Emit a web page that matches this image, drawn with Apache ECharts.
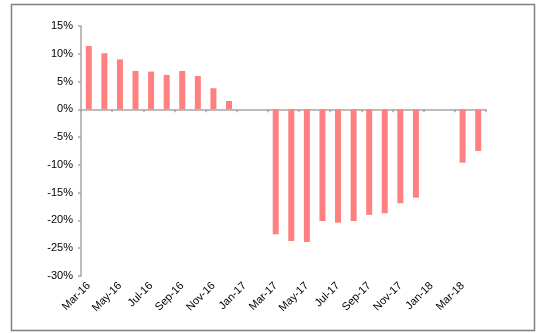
<!DOCTYPE html>
<html>
<head>
<meta charset="utf-8">
<script src="https://cdn.jsdelivr.net/npm/echarts@6/dist/echarts.min.js"></script>
<style>html,body{margin:0;padding:0;background:#fff;}#c{width:543px;height:333px;}</style>
</head>
<body>
<div id="c"></div>
<script>
var categories = ['Mar-16','Apr-16','May-16','Jun-16','Jul-16','Aug-16','Sep-16','Oct-16','Nov-16','Dec-16',
  'Jan-17','Feb-17','Mar-17','Apr-17','May-17','Jun-17','Jul-17','Aug-17','Sep-17','Oct-17','Nov-17','Dec-17',
  'Jan-18','Feb-18','Mar-18','Apr-18'];
var values = [11.4, 10.1, 9.0, 6.9, 6.8, 6.2, 6.9, 6.0, 3.8, 1.5,
  null, null, -22.5, -23.7, -23.9, -20.1, -20.4, -20.1, -19.0, -18.7, -16.9, -15.9,
  null, null, -9.6, -7.5];
var yTicks = {min: -30, max: 15, interval: 5};

var chart = echarts.init(document.getElementById('c'), null, {renderer: 'canvas'});
chart.setOption({
  animation: false,
  grid: {left: 81, right: 57, top: 26, bottom: 57, containLabel: false},
  xAxis: [{
    type: 'category', data: categories, position: 'bottom',
    axisLine: {onZero: true, lineStyle: {color: '#a6a6a6', width: 1.5}},
    axisTick: {show: true, interval: 1, length: 3, lineStyle: {color: '#a6a6a6', width: 1.5}},
    axisLabel: {show: false}
  }, {
    type: 'category', data: categories, position: 'bottom',
    axisLine: {show: false, onZero: false},
    axisTick: {show: false},
    axisLabel: {show: true, interval: 1, rotate: 45, margin: 8,
      fontFamily: 'Liberation Sans, Arial, sans-serif', fontSize: 11, color: '#000'}
  }],
  yAxis: {
    type: 'value', min: yTicks.min, max: yTicks.max, interval: yTicks.interval,
    axisLine: {show: true, lineStyle: {color: '#a6a6a6', width: 1.5}},
    axisTick: {show: true, length: 3, lineStyle: {color: '#a6a6a6', width: 1.5}},
    splitLine: {show: false},
    axisLabel: {formatter: '{value}%', margin: 8,
      fontFamily: 'Liberation Sans, Arial, sans-serif', fontSize: 11, color: '#000'}
  },
  series: [{
    type: 'bar', data: values, xAxisIndex: 0, barWidth: 6,
    itemStyle: {color: '#ff8080'}
  }],
  graphic: [{
    type: 'rect', shape: {x: 11.5, y: 4.5, width: 523, height: 326},
    style: {fill: 'none', stroke: '#808080', lineWidth: 1.5}, silent: true, z: -1
  }]
});
</script>
</body>
</html>
